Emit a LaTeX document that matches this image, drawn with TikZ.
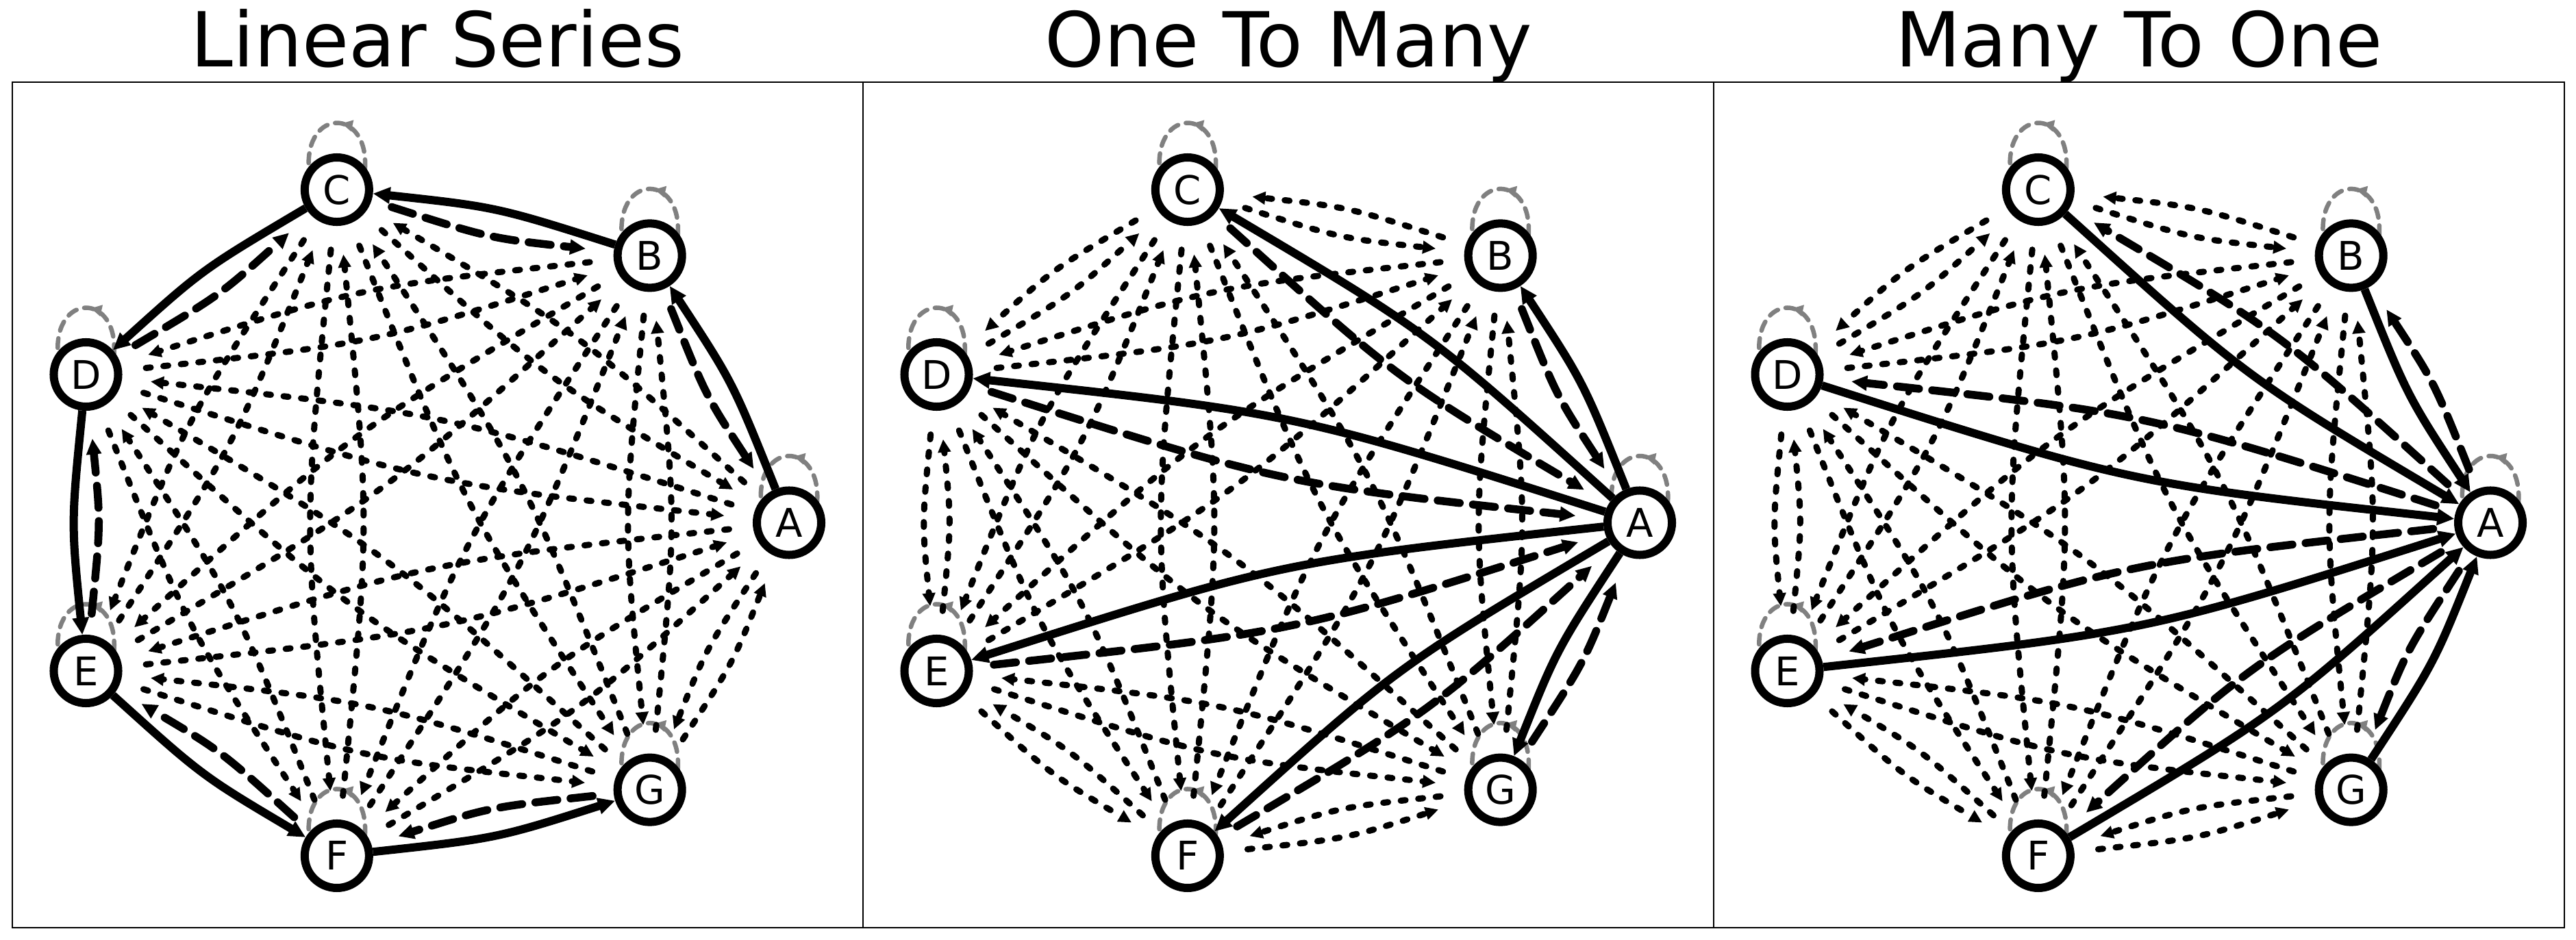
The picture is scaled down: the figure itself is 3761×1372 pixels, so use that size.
\documentclass[tikz,border=0pt]{standalone}
\usepackage{fontspec}
\setmainfont{DejaVu Sans}
\usetikzlibrary{arrows.meta,calc,decorations.markings}

\pgfdeclarelayer{edgelayer}
\pgfsetlayers{edgelayer,main}

% curved edge (arc, rad 0.05) from node #1 to node #2 of panel \pn
\newcommand{\bentedge}[3]{%
  \draw[#3] (\pn-#1) .. controls ($(\pn-#1)!0.5!(\pn-#2)!0.1!-90:(\pn-#2)$) .. (\pn-#2);}

\tikzset{
  vertex/.style={circle, draw=black, fill=white, line width=0.12cm, minimum size=0.94cm, inner sep=0pt, font=\fontsize{16.4}{18}\selectfont},
  mainedge/.style={line width=0.12cm, -{Triangle[length=0.25cm,width=0.23cm]}},
  backedge/.style={line width=0.115cm, line cap=round, dash pattern=on 9.2pt off 5.5pt, shorten <=0.31cm, shorten >=0.41cm, -{Triangle[length=0.23cm,width=0.21cm]}},
  otheredge/.style={line width=0.09cm, line cap=round, dash pattern=on 2pt off 5.3pt, shorten <=0.35cm, shorten >=0.42cm, -{Triangle[length=0.19cm,width=0.18cm]}},
  selfloop/.style={draw=loopColour, line width=0.065cm, line cap=round, dash pattern=on 4pt off 3.3pt, postaction={decorate}, decoration={markings, mark=at position 0.46 with {\arrow[loopColour]{Triangle[length=0.16cm,width=0.16cm]}}}},
  panelframe/.style={draw=black, line width=0.02cm},
  paneltitle/.style={anchor=base, font=\fontsize{31.5}{38}\selectfont}
}

\begin{document}
\begin{tikzpicture}[x=0.01cm, y=0.01cm]
    \definecolor{loopColour}{HTML}{808080}

    \useasboundingbox (0,0) rectangle (3761,1372);

    \foreach \pn/\ox/\ttl/\mains/\others in {%
lin/0/Linear Series/{A/B,B/C,C/D,D/E,E/F,F/G}/{A/C,A/D,A/E,A/F,A/G,B/D,B/E,B/F,B/G,C/E,C/F,C/G,D/F,D/G,E/G},%
otm/1242/One To Many/{A/B,A/C,A/D,A/E,A/F,A/G}/{B/C,B/D,B/E,B/F,B/G,C/D,C/E,C/F,C/G,D/E,D/F,D/G,E/F,E/G,F/G},%
mto/2484/Many To One/{B/A,C/A,D/A,E/A,F/A,G/A}/{B/C,B/D,B/E,B/F,B/G,C/D,C/E,C/F,C/G,D/E,D/F,D/G,E/F,E/G,F/G}} {

        % Panel frame and title
        \draw[panelframe] (18+\ox,17) rectangle (1260+\ox,1252);
        \node[paneltitle] (\pn-title) at (639+\ox,1274) {\ttl};

        % Nodes on the heptagon
        \foreach \n [count=\i from 0] in {A,B,C,D,E,F,G} {
            \node[vertex] (\pn-\n) at ($(612+\ox,608.5)+(\i*360/7:540 and 499)$) {\n};
        }

        \begin{pgfonlayer}{edgelayer}
            % Self loops
            \foreach \n in {A,B,C,D,E,F,G} {
                \draw[selfloop] ($(\pn-\n)+(41,30)$) .. controls ($(\pn-\n)+(47,120)$) and ($(\pn-\n)+(-47,120)$) .. ($(\pn-\n)+(-41,30)$);
            }
            % Other edges, both ways
            \foreach \u/\v in \others {
                \bentedge{\u}{\v}{otheredge}
                \bentedge{\v}{\u}{otheredge}
            }
            % Reverse of the main edges
            \foreach \u/\v in \mains {
                \bentedge{\v}{\u}{backedge}
            }
            % Main edges
            \foreach \u/\v in \mains {
                \bentedge{\u}{\v}{mainedge}
            }
        \end{pgfonlayer}
    }
\end{tikzpicture}
\end{document}
